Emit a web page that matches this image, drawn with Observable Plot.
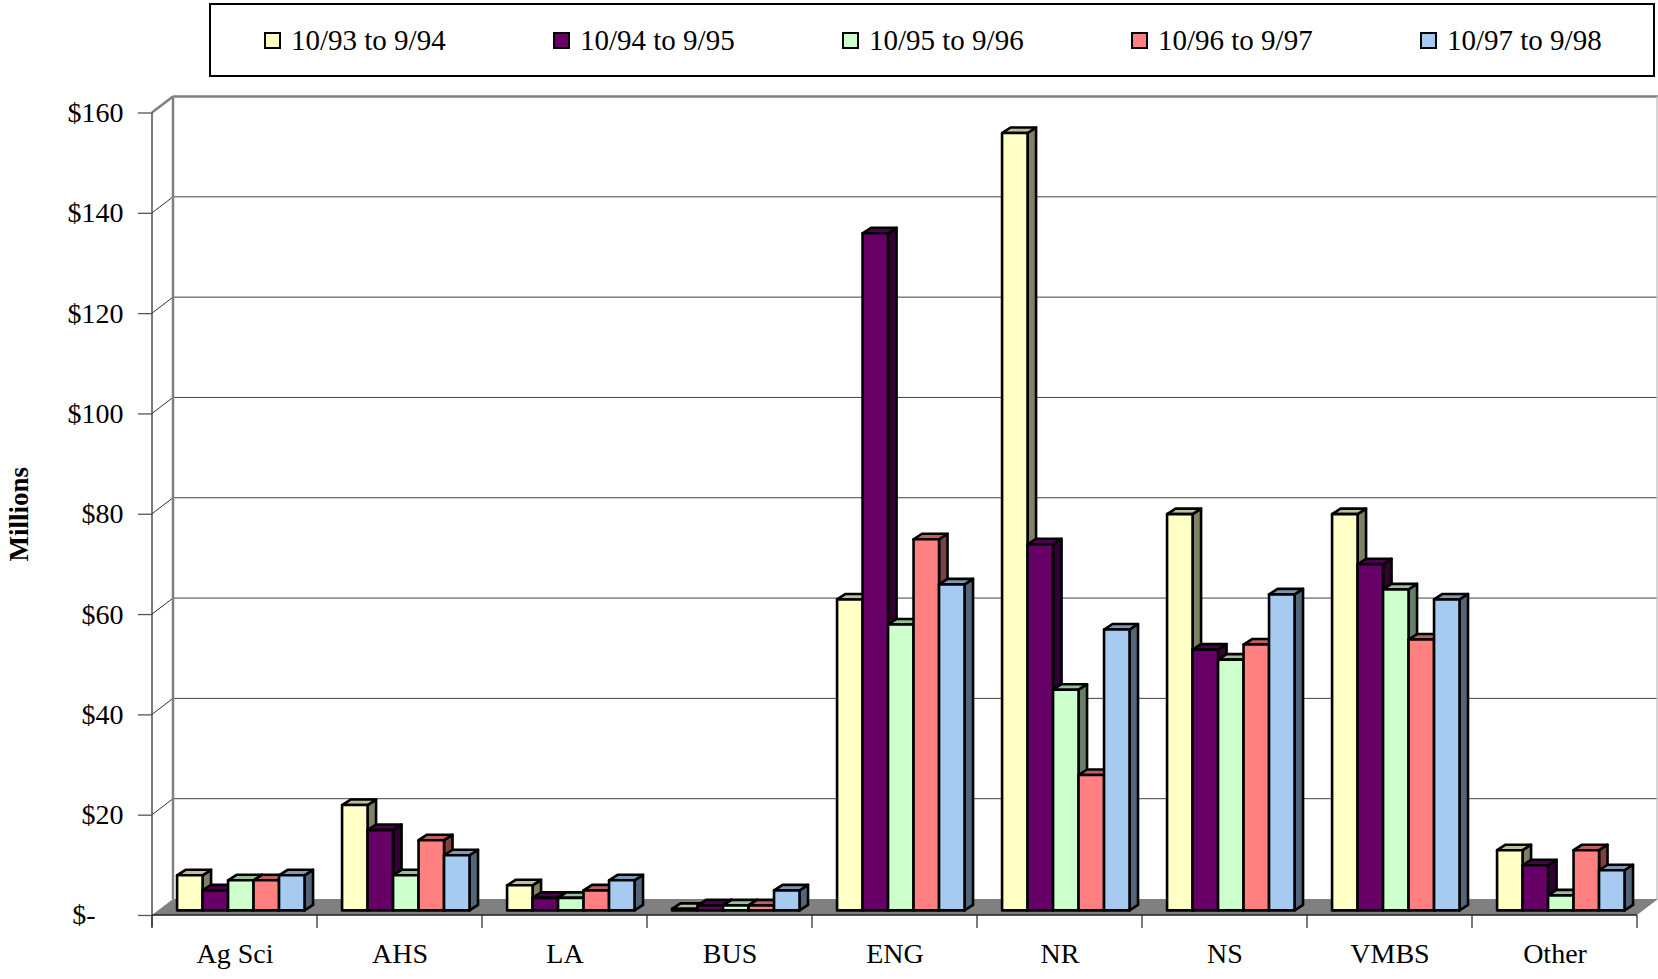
<!DOCTYPE html>
<html>
<head>
<meta charset="utf-8">
<script src="https://cdn.jsdelivr.net/npm/d3@7"></script>
<script src="https://cdn.jsdelivr.net/npm/@observablehq/plot@0.6"></script>
<style>
  body { margin: 0; background: #fff; font-family: "Liberation Serif", "Times New Roman", serif; }
  #legend { position: relative; width: 1658px; height: 80px; }
  #legendBox { position: absolute; left: 209px; top: 3px; width: 1442px; height: 70px; border: 2px solid #000; box-sizing: content-box; }
  .item { position: absolute; top: 26px; height: 29px; line-height: 29px; font-size: 29px; white-space: nowrap; color: #000; }
  .sw { position: absolute; top: 32px; width: 13px; height: 13px; border: 2px solid #000; }
  #chart svg { display: block; }
</style>
</head>
<body>
<div id="legend"><div id="legendBox"></div></div>
<div id="chart"></div>
<script>
// ---- data ----
const categories = ["Ag Sci", "AHS", "LA", "BUS", "ENG", "NR", "NS", "VMBS", "Other"];
const seriesNames = ["10/93 to 9/94", "10/94 to 9/95", "10/95 to 9/96", "10/96 to 9/97", "10/97 to 9/98"];
const fy9394 = [7, 21, 5, 0.3, 62, 155, 79, 79, 12];
const fy9495 = [4, 16, 2.5, 1, 135, 73, 52, 69, 9];
const fy9596 = [6, 7, 2.5, 1, 57, 44, 50, 64, 3];
const fy9697 = [6, 14, 4, 1, 74, 27, 53, 54, 12];
const fy9798 = [7, 11, 6, 4, 65, 56, 63, 62, 8];
const seriesColors = ["#FFFFC6", "#660066", "#CCFFCC", "#FF8080", "#A6CAF0"];
const yTicks = [0, 20, 40, 60, 80, 100, 120, 140, 160];
const yTickLabels = ["$-", "$20", "$40", "$60", "$80", "$100", "$120", "$140", "$160"];
const yLabel = "Millions";

const seriesValues = [fy9394, fy9495, fy9596, fy9697, fy9798];
const table = [];
seriesNames.forEach((s, si) => categories.forEach((c, ci) => table.push({category: c, series: s, si, value: seriesValues[si][ci]})));

// ---- style constants (3D look) ----
const WALL_DX = 21, WALL_DY = 16;     // depth of floor / back wall
const POS_DX = 6.3, POS_DY = 4.6;     // bars sit a bit behind the front edge
const BAR_DX = 8.5, BAR_DY = 5.5;     // depth of each bar
const BAR_FRAC = 0.1545;              // bar width as share of a category band
const FONT = "Liberation Serif, Times New Roman, serif";

// ---- legend (HTML, above the svg) ----
const legend = document.getElementById("legend");
seriesNames.forEach((s, i) => {
  const sw = document.createElement("div");
  sw.className = "sw";
  sw.style.left = (264 + i * 289) + "px";
  sw.style.background = seriesColors[i];
  legend.appendChild(sw);
  const t = document.createElement("div");
  t.className = "item";
  t.style.left = (291 + i * 289) + "px";
  t.textContent = s;
  legend.appendChild(t);
});

function bandOf(x, dims) {
  if (x.bandwidth) return typeof x.bandwidth === "function" ? x.bandwidth() : x.bandwidth;
  return (dims.width - dims.marginLeft - dims.marginRight) / categories.length;
}
const ln = (g, x1, y1, x2, y2, stroke, w) =>
  g.append("line").attr("x1", x1).attr("y1", y1).attr("x2", x2).attr("y2", y2).attr("stroke", stroke).attr("stroke-width", w);

// floor, back wall, gridlines
function backdrop(index, scales, values, dims) {
  const {x, y} = scales;
  const g = d3.create("svg:g");
  const bw = bandOf(x, dims);
  const x0 = x(categories[0]);
  const x1 = x(categories[categories.length - 1]) + bw;
  const y0 = y(0);
  const yTop = y(yTicks[yTicks.length - 1]);
  g.append("path")
    .attr("d", `M${x0},${y0}L${x1},${y0}L${x1 + WALL_DX},${y0 - WALL_DY}L${x0 + WALL_DX},${y0 - WALL_DY}Z`)
    .attr("fill", "#808080");
  yTicks.forEach((t, i) => {
    if (i === 0) return;
    const yy = y(t);
    const top = i === yTicks.length - 1;
    ln(g, x0 + WALL_DX, yy - WALL_DY, x1 + WALL_DX, yy - WALL_DY, top ? "#808080" : "#444", top ? 2.5 : 1);
    ln(g, x0, yy, x0 + WALL_DX, yy - WALL_DY, top ? "#808080" : "#333", top ? 2.5 : 1);
  });
  ln(g, x0 + WALL_DX, y0 - WALL_DY, x0 + WALL_DX, yTop - WALL_DY, "#808080", 2.5);
  ln(g, x1 + WALL_DX - 1, y0 - WALL_DY, x1 + WALL_DX - 1, yTop - WALL_DY, "#c8c8c8", 1.5);
  // front value axis line
  ln(g, x0, y0 + 12, x0, yTop, "#333", 1.3);
  // category axis line + ticks
  ln(g, x0, y0, x1, y0, "#222", 1.5);
  categories.forEach((c, i) => ln(g, x(c), y0, x(c), y0 + 13, "#333", 1.3));
  ln(g, x1, y0, x1, y0 + 13, "#333", 1.3);
  return g.node();
}

// 3D columns
function bars3d(index, scales, values, dims) {
  const {x, y} = scales;
  const g = d3.create("svg:g").attr("stroke", "#000").attr("stroke-width", 2.6).attr("stroke-linejoin", "round");
  const bw = bandOf(x, dims);
  const barW = bw * BAR_FRAC;
  const pad = (bw - barW * seriesNames.length) / 2;
  const poly = (pts, fill) => g.append("path").attr("d", "M" + pts.map(p => p.join(",")).join("L") + "Z").attr("fill", fill);
  categories.forEach((c, ci) => {
    seriesNames.forEach((s, si) => {
      const v = seriesValues[si][ci];
      const base = d3.rgb(seriesColors[si]);
      const shade = k => d3.rgb(base.r * k, base.g * k, base.b * k).formatHex();
      const L = x(c) + pad + si * barW + POS_DX;
      const R = L + barW;
      const B = y(0) - POS_DY;
      const T = y(v) - POS_DY;
      poly([[R, B], [R + BAR_DX, B - BAR_DY], [R + BAR_DX, T - BAR_DY], [R, T]], shade(0.5));
      poly([[L, T], [L + BAR_DX, T - BAR_DY], [R + BAR_DX, T - BAR_DY], [R, T]], shade(0.75));
      poly([[L, B], [R, B], [R, T], [L, T]], base.formatHex());
    });
  });
  return g.node();
}

const labelOf = new Map(yTicks.map((t, i) => [t, yTickLabels[i]]));

const chart = Plot.plot({
  width: 1658,
  height: 899,
  marginTop: 32.5,
  marginBottom: 64,
  marginLeft: 152,
  marginRight: 21,
  style: {fontFamily: FONT, background: "#fff", color: "#000"},
  x: {domain: categories, padding: 0, axis: null},
  y: {domain: [0, 160], axis: null},
  marks: [
    Plot.barY(table, {x: "category", y: "value", fillOpacity: 0}),
    backdrop,
    Plot.axisY(yTicks, {
      anchor: "left",
      tickFormat: d => (d === 0 ? "" : labelOf.get(d)),
      tickSize: 14,
      tickPadding: 15,
      fontSize: 28,
      stroke: "#555",
      strokeWidth: 1.3,
      label: null
    }),
    // accounting-style zero label: "$-" padded by two digit widths
    Plot.text(yTicks.filter(t => t === 0), {
      y: d => d, text: d => labelOf.get(d), frameAnchor: "left", textAnchor: "end",
      dx: -57, fontSize: 28, fill: "#000"
    }),
    bars3d,
    Plot.text(categories, {x: d => d, frameAnchor: "bottom", dy: 47, fontSize: 28, fill: "#000"}),
    Plot.text([yLabel], {frameAnchor: "left", textAnchor: "middle", dx: -133, rotate: -90, fontWeight: "bold", fontSize: 27, fill: "#000"})
  ]
});
document.getElementById("chart").appendChild(chart);
</script>
</body>
</html>
